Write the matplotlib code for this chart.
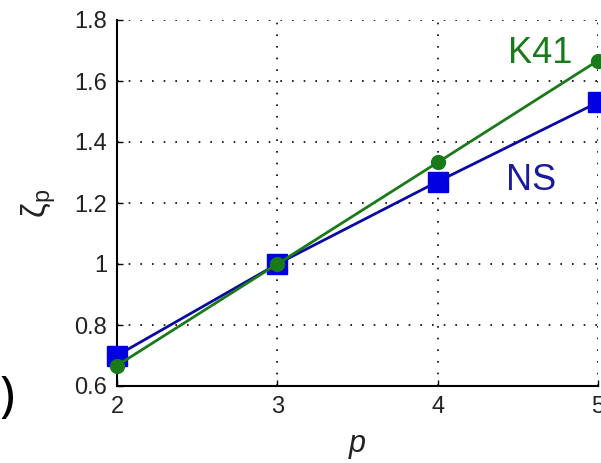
import matplotlib
matplotlib.use('Agg')
import matplotlib.pyplot as plt

# Datos de los exponentes de escala
p_vals = [2, 3, 4, 5]
zeta_ns = [0.70, 1.00, 1.27, 1.53]
zeta_k41 = [0.667, 1.00, 1.333, 1.667]

x_ticks = [2, 3, 4, 5]
y_ticks = [0.6, 0.8, 1.0, 1.2, 1.4, 1.6, 1.8]
y_tick_labels = ['0.6', '0.8', '1', '1.2', '1.4', '1.6', '1.8']

plt.rcParams['font.family'] = ['Liberation Sans', 'DejaVu Sans']
plt.rcParams['mathtext.fontset'] = 'custom'
plt.rcParams['mathtext.rm'] = 'Liberation Sans'
plt.rcParams['mathtext.it'] = 'Liberation Sans:italic'

color_ns = '#0000e0'
color_ns_line = '#0a0aa0'
color_k41 = '#1a7a1a'

fig = plt.figure(figsize=(6.01, 4.63), dpi=100)
# Ejes: borde izquierdo en x=117 px, x=5 en ~598 px
ax = fig.add_axes([117 / 601, 77 / 463, 481 / 601, 366 / 463])

ax.plot(p_vals, zeta_ns, color=color_ns_line, linewidth=2, marker='s', markersize=14,
        markerfacecolor=color_ns, markeredgecolor=color_ns, clip_on=False, zorder=3)
ax.plot(p_vals, zeta_k41, color=color_k41, linewidth=2, marker='o', markersize=10,
        markerfacecolor=color_k41, markeredgecolor=color_k41, clip_on=False, zorder=4)

ax.text(4.64, 1.69, 'K41', color=color_k41, fontsize=26, ha='center', va='center')
ax.text(4.58, 1.275, 'NS', color='#1a1a9a', fontsize=26, ha='center', va='center')

ax.set_xlim(2, 5)
ax.set_ylim(0.6, 1.8)
ax.set_xticks(x_ticks)
ax.set_yticks(y_ticks)
ax.set_yticklabels(y_tick_labels)

ax.grid(True, color='black', linestyle=(0, (1, 6)), linewidth=1.2)
ax.set_axisbelow(True)

for s in ['top', 'right']:
    ax.spines[s].set_visible(False)
for s in ['left', 'bottom']:
    ax.spines[s].set_linewidth(1.5)

ax.tick_params(direction='in', length=4, width=1, labelsize=17, pad=7, colors='black')
for lbl in ax.get_xticklabels() + ax.get_yticklabels():
    lbl.set_color('#222222')

ax.set_xlabel('p', fontsize=22, style='italic', color='#222222', labelpad=8)
ax.set_ylabel(r'$\mathrm{\zeta}_\mathrm{p}$', fontsize=24, color='#222222', labelpad=12)

fig.text(0.0, 0.14, ')', fontsize=36, ha='left', va='center', family='Noto Sans')

fig.savefig('out.png', dpi=100)
